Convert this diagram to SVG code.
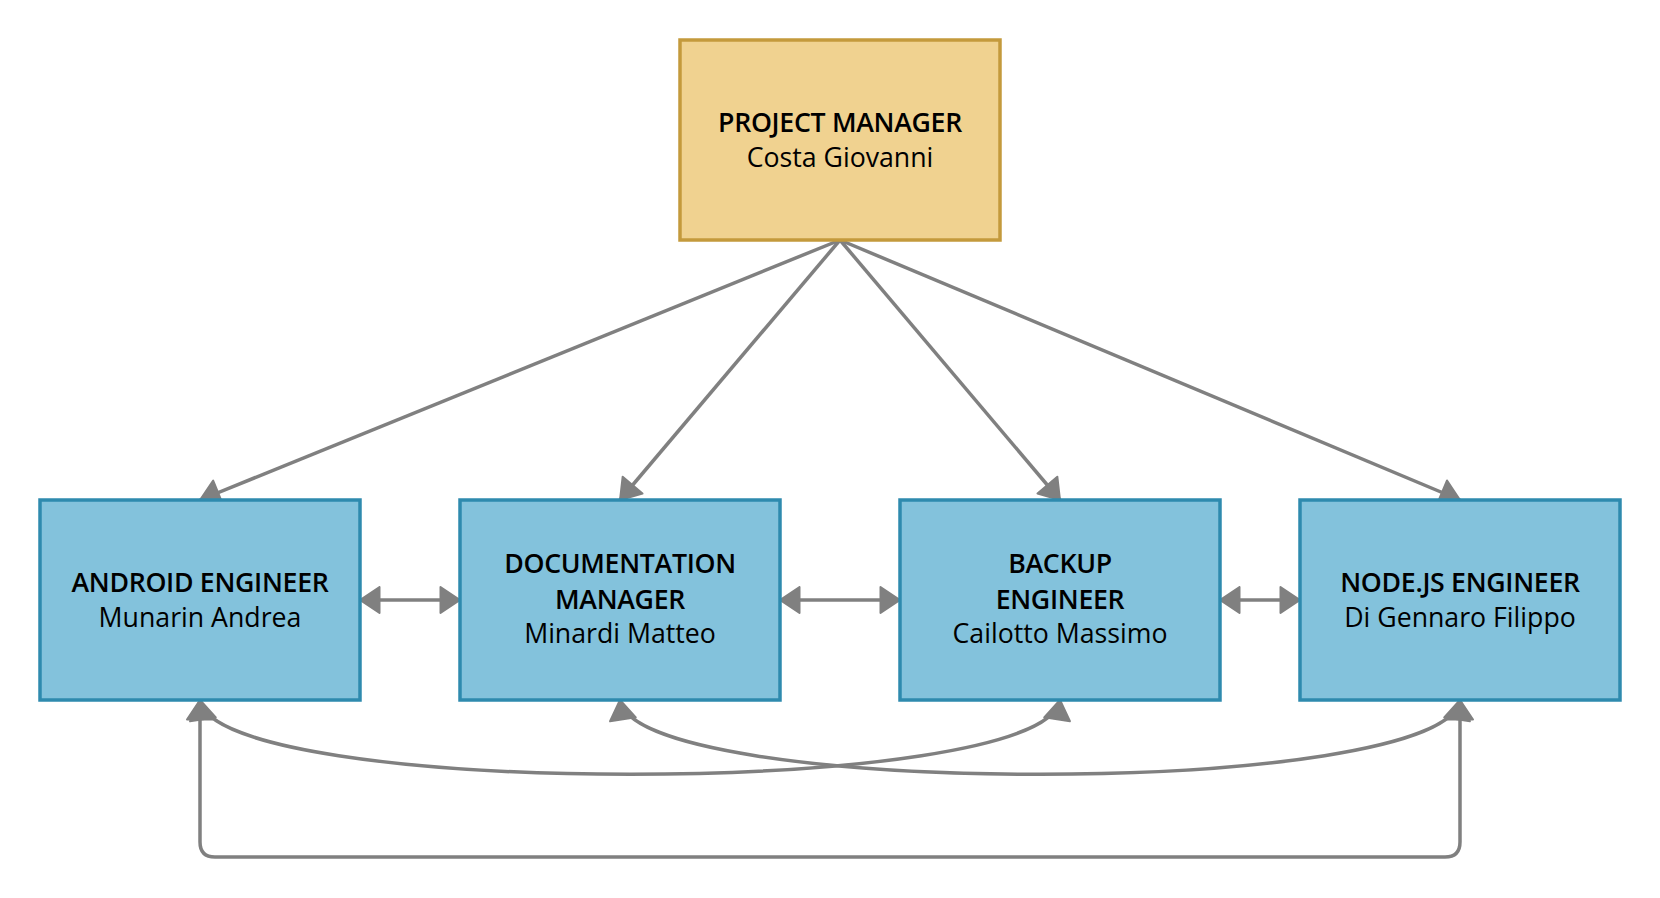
<svg xmlns="http://www.w3.org/2000/svg" width="1660" height="898" viewBox="0 0 1660 898">
  <style>
    .pm { fill: #f0d290; stroke: #c49a3c; stroke-width: 3.5; }
    .eng { fill: #83c2dc; stroke: #2e8aae; stroke-width: 3.5; }
    .t { font-family: "Open Sans", "Noto Sans", sans-serif; font-size: 26.7px; font-weight: 600; letter-spacing: -0.3px; fill: #000; text-anchor: middle; }
    .n { font-family: "Open Sans", "Noto Sans", sans-serif; font-size: 26.7px; font-weight: 400; fill: #000; text-anchor: middle; }
    .c { fill: none; stroke: #808080; stroke-width: 3.5; }
  </style>
  <defs>
    <marker id="ah" viewBox="0 0 23 29" markerWidth="23" markerHeight="29" refX="21" refY="14.5" orient="auto-start-reverse" markerUnits="userSpaceOnUse">
      <path d="M1.5,1.5 L21,14.5 L1.5,27.5 Z" fill="#808080" stroke="#808080" stroke-width="2" stroke-linejoin="round"/>
    </marker>
  </defs>
  <rect width="1660" height="898" fill="#ffffff"/>
  <g id="connectors">
    <path class="c" d="M840,240 L200,500" marker-end="url(#ah)"/>
    <path class="c" d="M840,240 L620,500" marker-end="url(#ah)"/>
    <path class="c" d="M840,240 L1060,500" marker-end="url(#ah)"/>
    <path class="c" d="M840,240 L1460,500" marker-end="url(#ah)"/>
    <path class="c" d="M360,600 H460" marker-start="url(#ah)" marker-end="url(#ah)"/>
    <path class="c" d="M780,600 H900" marker-start="url(#ah)" marker-end="url(#ah)"/>
    <path class="c" d="M1220,600 H1300" marker-start="url(#ah)" marker-end="url(#ah)"/>
    <path class="c" d="M200,700 C215,799 1045,799 1060,700" marker-start="url(#ah)" marker-end="url(#ah)"/>
    <path class="c" d="M620,700 C635,799 1445,799 1460,700" marker-start="url(#ah)" marker-end="url(#ah)"/>
    <path class="c" d="M200,700 V842 Q200,857 215,857 H1445 Q1460,857 1460,842 V700" marker-start="url(#ah)" marker-end="url(#ah)"/>
  </g>
  <g id="project-manager">
    <rect class="pm" x="680" y="40" width="320" height="200"/>
    <text class="t" x="840" y="132">PROJECT MANAGER</text>
    <text class="n" x="840" y="167">Costa Giovanni</text>
  </g>
  <g id="android-engineer">
    <rect class="eng" x="40" y="500" width="320" height="200"/>
    <text class="t" x="200" y="592">ANDROID ENGINEER</text>
    <text class="n" x="200" y="627">Munarin Andrea</text>
  </g>
  <g id="documentation-manager">
    <rect class="eng" x="460" y="500" width="320" height="200"/>
    <text class="t" x="620" y="573">DOCUMENTATION</text>
    <text class="t" x="620" y="609">MANAGER</text>
    <text class="n" x="620" y="643">Minardi Matteo</text>
  </g>
  <g id="backup-engineer">
    <rect class="eng" x="900" y="500" width="320" height="200"/>
    <text class="t" x="1060" y="573">BACKUP</text>
    <text class="t" x="1060" y="609">ENGINEER</text>
    <text class="n" x="1060" y="643">Cailotto Massimo</text>
  </g>
  <g id="nodejs-engineer">
    <rect class="eng" x="1300" y="500" width="320" height="200"/>
    <text class="t" x="1460" y="592">NODE.JS ENGINEER</text>
    <text class="n" x="1460" y="627">Di Gennaro Filippo</text>
  </g>
</svg>
